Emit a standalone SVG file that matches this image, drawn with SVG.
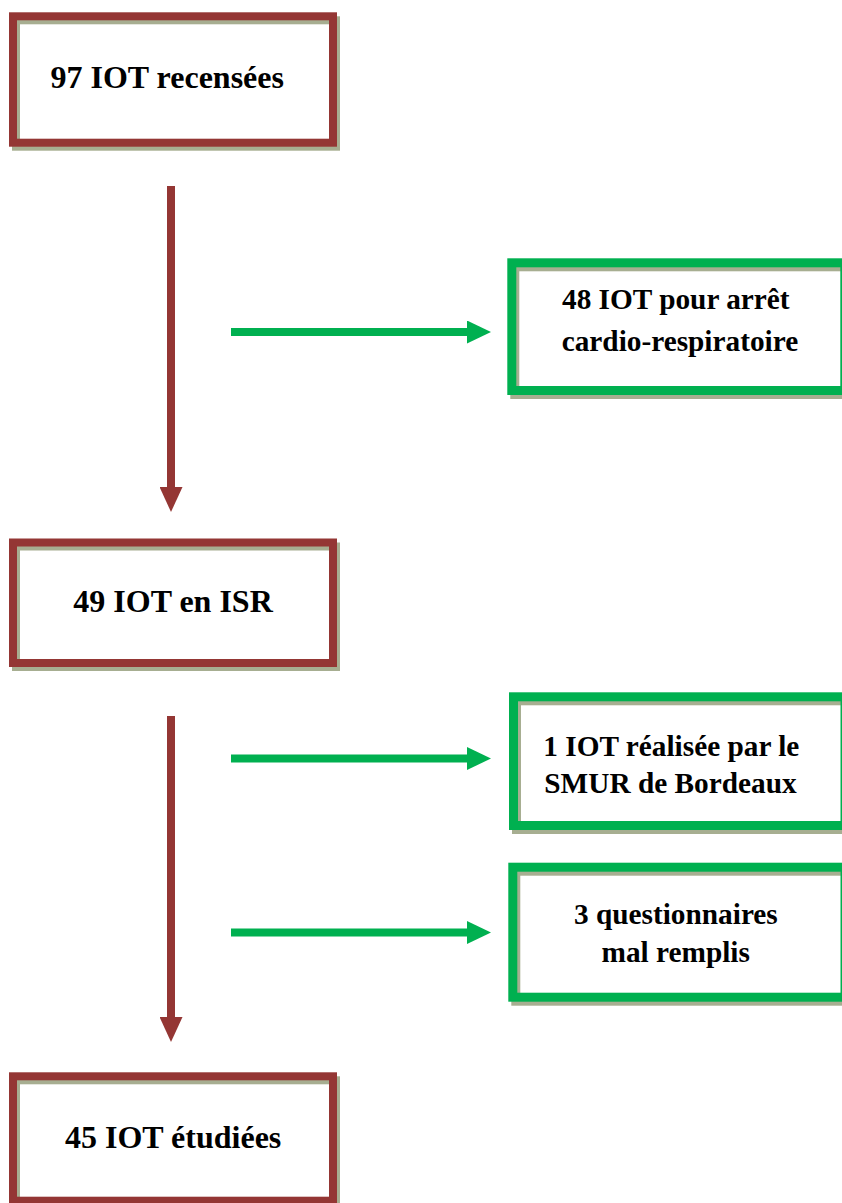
<svg xmlns="http://www.w3.org/2000/svg" width="842" height="1203" viewBox="0 0 842 1203">
  <style>
    .shadow { fill: none; stroke: #a7ae91; }
    .red { fill: none; stroke: #943634; stroke-width: 8; }
    .redsh { stroke-width: 8; }
    .green { fill: none; stroke: #00b050; stroke-width: 9; }
    .greensh { stroke-width: 9; }
    .ra { stroke: #943634; stroke-width: 8; fill: none; }
    .ga { stroke: #00b050; stroke-width: 8; fill: none; }
  </style>
  <defs>
    <marker id="headRed" markerUnits="userSpaceOnUse" viewBox="0 0 25 23" refX="0" refY="11.5" markerWidth="25" markerHeight="23" orient="auto">
      <path d="M0,0 L25,11.5 L0,23 Z" fill="#943634"/>
    </marker>
    <marker id="headGreen" markerUnits="userSpaceOnUse" viewBox="0 0 24 23" refX="0" refY="11.5" markerWidth="24" markerHeight="23" orient="auto">
      <path d="M0,0 L24,11.5 L0,23 Z" fill="#00b050"/>
    </marker>
  </defs>

  <g id="connectors">
    <line class="ra" x1="171" y1="186" x2="171" y2="487" marker-end="url(#headRed)"/>
    <line class="ra" x1="171" y1="716" x2="171" y2="1017" marker-end="url(#headRed)"/>
    <line class="ga" x1="231" y1="332" x2="467" y2="332" marker-end="url(#headGreen)"/>
    <line class="ga" x1="231" y1="758.5" x2="467" y2="758.5" marker-end="url(#headGreen)"/>
    <line class="ga" x1="231" y1="932.5" x2="467" y2="932.5" marker-end="url(#headGreen)"/>
  </g>

  <g font-family="Liberation Serif, DejaVu Serif, serif" font-weight="bold" fill="#000">
  <g id="node-97">
    <rect class="shadow redsh" x="16" y="20.3" width="320" height="126.4"/>
    <rect class="red" x="13" y="16.3" width="320" height="126.4"/>
    <text font-size="32" x="50.5" y="88">97 IOT recensées</text>
  </g>

  <g id="node-48">
    <rect class="shadow greensh" x="514.8" y="266.8" width="332" height="127.7"/>
    <rect class="green" x="511.8" y="262.8" width="333" height="127.7"/>
    <text font-size="29.3" x="562" y="309">48 IOT pour arrêt</text>
    <text font-size="29.3" x="561.7" y="351">cardio-respiratoire</text>
  </g>

  <g id="node-49">
    <rect class="shadow redsh" x="16" y="546.5" width="320" height="120.5"/>
    <rect class="red" x="13" y="542.5" width="320" height="120.5"/>
    <text font-size="32" x="73.3" y="612">49 IOT en ISR</text>
  </g>

  <g id="node-1">
    <rect class="shadow greensh" x="516.5" y="700.8" width="332" height="128.7"/>
    <rect class="green" x="513.5" y="696.8" width="331.5" height="128.7"/>
    <text font-size="29.3" x="543.3" y="756">1 IOT réalisée par le</text>
    <text font-size="29.3" x="544.3" y="793">SMUR de Bordeaux</text>
  </g>

  <g id="node-3">
    <rect class="shadow greensh" x="515.8" y="871.2" width="332" height="130"/>
    <rect class="green" x="512.8" y="867.2" width="332.2" height="130"/>
    <text font-size="29.3" x="574" y="924">3 questionnaires</text>
    <text font-size="29.3" x="601.5" y="962">mal remplis</text>
  </g>

  <g id="node-45">
    <rect class="shadow redsh" x="16" y="1080.3" width="320" height="124.4"/>
    <rect class="red" x="13" y="1076.3" width="320" height="124.4"/>
    <text font-size="32" x="65" y="1148">45 IOT étudiées</text>
  </g>
  </g>
</svg>
